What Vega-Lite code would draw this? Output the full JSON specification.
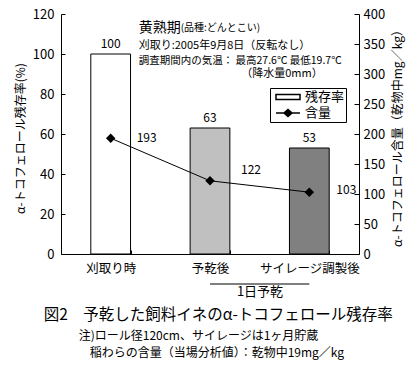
{
  "$schema": "https://vega.github.io/schema/vega-lite/v6.json",
  "width": 298,
  "height": 240,
  "autosize": {"type": "none"},
  "padding": {"left": 61, "top": 14, "right": 56, "bottom": 111},
  "config": {
    "font": "Noto Sans CJK JP",
    "view": {"stroke": null},
    "axis": {
      "domainColor": "black",
      "tickColor": "black",
      "labelColor": "black",
      "titleColor": "black",
      "grid": false,
      "labelFontSize": 13,
      "titleFontSize": 12,
      "titleFontWeight": "normal",
      "labelFont": "Noto Sans CJK JP",
      "titleFont": "Noto Sans CJK JP",
      "labelOverlap": false
    },
    "text": {"color": "black", "font": "Noto Sans CJK JP"}
  },
  "data": {
    "values": [
      {"stage": "刈取り時", "rate": 100, "content": 193},
      {"stage": "予乾後", "rate": 63, "content": 122},
      {"stage": "サイレージ調製後", "rate": 53, "content": 103}
    ]
  },
  "encoding": {
    "x": {
      "field": "stage",
      "type": "nominal",
      "scale": {"domain": ["刈取り時", "予乾後", "サイレージ調製後"], "paddingInner": 0.6, "paddingOuter": 0.3},
      "axis": {"title": null, "labelAngle": 0, "tickBand": "extent", "tickSize": -4, "labelPadding": 12, "labelFontSize": 12.5}
    }
  },
  "layer": [
    {
      "layer": [
        {
          "mark": {"type": "bar", "stroke": "black", "strokeWidth": 1},
          "encoding": {
            "y": {
              "field": "rate",
              "type": "quantitative",
              "scale": {"domain": [0, 120], "nice": false},
              "axis": {
                "orient": "left",
                "values": [0, 20, 40, 60, 80, 100, 120],
                "tickCount": 7,
                "title": "α-トコフェロール残存率(%)",
                "tickSize": -4,
                "labelPadding": 11,
                "titleAngle": 270,
                "titleX": -41,
                "titleY": 124,
                "titleAlign": "center",
                "titleBaseline": "middle"
              }
            },
            "fill": {
              "condition": [
                {"test": "datum.stage === '予乾後'", "value": "#c0c0c0"},
                {"test": "datum.stage === 'サイレージ調製後'", "value": "#808080"}
              ],
              "value": "white"
            }
          }
        },
        {
          "mark": {"type": "text", "dy": -10, "fontSize": 12, "baseline": "middle"},
          "encoding": {
            "y": {"field": "rate", "type": "quantitative"},
            "text": {"field": "rate", "type": "quantitative"}
          }
        },
        {
          "data": {"values": [{}]},
          "mark": {"type": "text", "text": "黄熟期", "fontSize": 14, "align": "left", "baseline": "middle", "dx": 28},
          "encoding": {"x": {"datum": "刈取り時"}, "y": {"datum": 113}}
        },
        {
          "data": {"values": [{}]},
          "mark": {"type": "text", "text": "(品種:どんとこい)", "fontSize": 10, "align": "left", "baseline": "middle", "dx": 70},
          "encoding": {"x": {"datum": "刈取り時"}, "y": {"datum": 113}}
        },
        {
          "data": {"values": [{}]},
          "mark": {"type": "text", "text": "刈取り:2005年9月8日（反転なし）", "fontSize": 11, "align": "left", "baseline": "middle", "dx": 28},
          "encoding": {"x": {"datum": "刈取り時"}, "y": {"datum": 104}}
        },
        {
          "data": {"values": [{}]},
          "mark": {"type": "text", "text": "調査期間内の気温： 最高27.6℃ 最低19.7℃", "fontSize": 10.5, "align": "left", "baseline": "middle", "dx": 28},
          "encoding": {"x": {"datum": "刈取り時"}, "y": {"datum": 96.5}}
        },
        {
          "data": {"values": [{}]},
          "mark": {"type": "text", "text": "（降水量0mm）", "fontSize": 11, "align": "center", "baseline": "middle", "dx": 72},
          "encoding": {"x": {"datum": "予乾後"}, "y": {"datum": 90}}
        },
        {
          "data": {"values": [{"from": "予乾後", "to": "サイレージ調製後", "label": "1日予乾"}]},
          "mark": {"type": "rule", "color": "black", "strokeWidth": 1, "clip": false},
          "encoding": {
            "x": {"field": "from", "type": "nominal"},
            "x2": {"field": "to"},
            "y": {"datum": -15}
          }
        },
        {
          "data": {"values": [{"from": "予乾後", "to": "サイレージ調製後", "label": "1日予乾"}]},
          "mark": {"type": "text", "fontSize": 13, "align": "center", "baseline": "middle", "dx": 50, "clip": false},
          "encoding": {
            "x": {"field": "from", "type": "nominal"},
            "y": {"datum": -19},
            "text": {"field": "label"}
          }
        },
        {
          "data": {"values": [{}]},
          "mark": {"type": "text", "text": "図2　予乾した飼料イネのα-トコフェロール残存率", "fontSize": 15.5, "align": "left", "baseline": "middle", "dx": -67, "clip": false},
          "encoding": {"x": {"datum": "刈取り時"}, "y": {"datum": -30.5}}
        },
        {
          "data": {"values": [{}]},
          "mark": {"type": "text", "text": "注)ロール径120cm、サイレージは1ヶ月貯蔵", "fontSize": 12, "align": "left", "baseline": "middle", "dx": -32, "clip": false},
          "encoding": {"x": {"datum": "刈取り時"}, "y": {"datum": -41}}
        },
        {
          "data": {"values": [{}]},
          "mark": {"type": "text", "text": "稲わらの含量（当場分析値）：乾物中19mg／kg", "fontSize": 12, "align": "left", "baseline": "middle", "dx": -21, "clip": false},
          "encoding": {"x": {"datum": "刈取り時"}, "y": {"datum": -49.5}}
        }
      ]
    },
    {
      "layer": [
        {
          "mark": {"type": "line", "color": "black", "strokeWidth": 1},
          "encoding": {
            "y": {
              "field": "content",
              "type": "quantitative",
              "scale": {"domain": [0, 400], "nice": false},
              "axis": {
                "orient": "right",
                "values": [0, 50, 100, 150, 200, 250, 300, 350, 400],
                "tickCount": 9,
                "title": "α-トコフェロール含量（乾物中mg／kg）",
                "tickSize": -5,
                "labelPadding": 9,
                "titleAngle": 270,
                "titleX": 38,
                "titleY": 121,
                "titleAlign": "center",
                "titleBaseline": "middle"
              }
            }
          }
        },
        {
          "mark": {"type": "point", "shape": "diamond", "size": 90, "filled": true, "color": "black", "opacity": 1},
          "encoding": {"y": {"field": "content", "type": "quantitative"}}
        },
        {
          "transform": [{"filter": "datum.stage === '刈取り時'"}],
          "mark": {"type": "text", "fontSize": 12, "dx": 36, "dy": 0, "baseline": "middle"},
          "encoding": {"y": {"field": "content", "type": "quantitative"}, "text": {"field": "content", "type": "quantitative"}}
        },
        {
          "transform": [{"filter": "datum.stage === '予乾後'"}],
          "mark": {"type": "text", "fontSize": 12, "dx": 41, "dy": -11, "baseline": "middle"},
          "encoding": {"y": {"field": "content", "type": "quantitative"}, "text": {"field": "content", "type": "quantitative"}}
        },
        {
          "transform": [{"filter": "datum.stage === 'サイレージ調製後'"}],
          "mark": {"type": "text", "fontSize": 12, "dx": 37, "dy": -2, "baseline": "middle"},
          "encoding": {"y": {"field": "content", "type": "quantitative"}, "text": {"field": "content", "type": "quantitative"}}
        },
        {
          "data": {"values": [{"series": "残存率"}, {"series": "含量"}]},
          "mark": {"type": "point", "stroke": "black", "strokeWidth": 1, "filled": true, "opacity": 1, "clip": true},
          "encoding": {
            "x": {"datum": "刈取り時"},
            "y": {"datum": -2000},
            "shape": {
              "field": "series",
              "type": "nominal",
              "scale": {"domain": ["残存率", "含量"], "range": ["M-1,-0.2H1V0.2H-1Z", "M-1,0H1M-0.34,0L0,-0.3L0.34,0L0,0.3Z"]},
              "legend": {"orient": "none", "legendX": 209, "legendY": 74, "title": null, "padding": 1, "strokeColor": "black", "fillColor": "white", "labelFontSize": 13, "labelColor": "black", "symbolSize": 576, "clipHeight": 16, "symbolOffset": 4, "labelOffset": 4, "rowPadding": 0,
                "encode": {"symbols": {"update": {"stroke": {"value": "black"}, "strokeWidth": {"value": 1}, "opacity": {"value": 1}, "size": {"value": 576}}}}}
            },
            "fill": {
              "field": "series",
              "type": "nominal",
              "scale": {"domain": ["残存率", "含量"], "range": ["white", "black"]},
              "legend": {"orient": "none", "legendX": 209, "legendY": 74, "title": null, "padding": 1, "strokeColor": "black", "fillColor": "white", "labelFontSize": 13, "labelColor": "black", "symbolSize": 576, "clipHeight": 16, "symbolOffset": 4, "labelOffset": 4, "rowPadding": 0,
                "encode": {"symbols": {"update": {"stroke": {"value": "black"}, "strokeWidth": {"value": 1}, "opacity": {"value": 1}, "size": {"value": 576}}}}}
            }
          }
        }
      ]
    }
  ],
  "resolve": {"scale": {"y": "independent"}}
}
